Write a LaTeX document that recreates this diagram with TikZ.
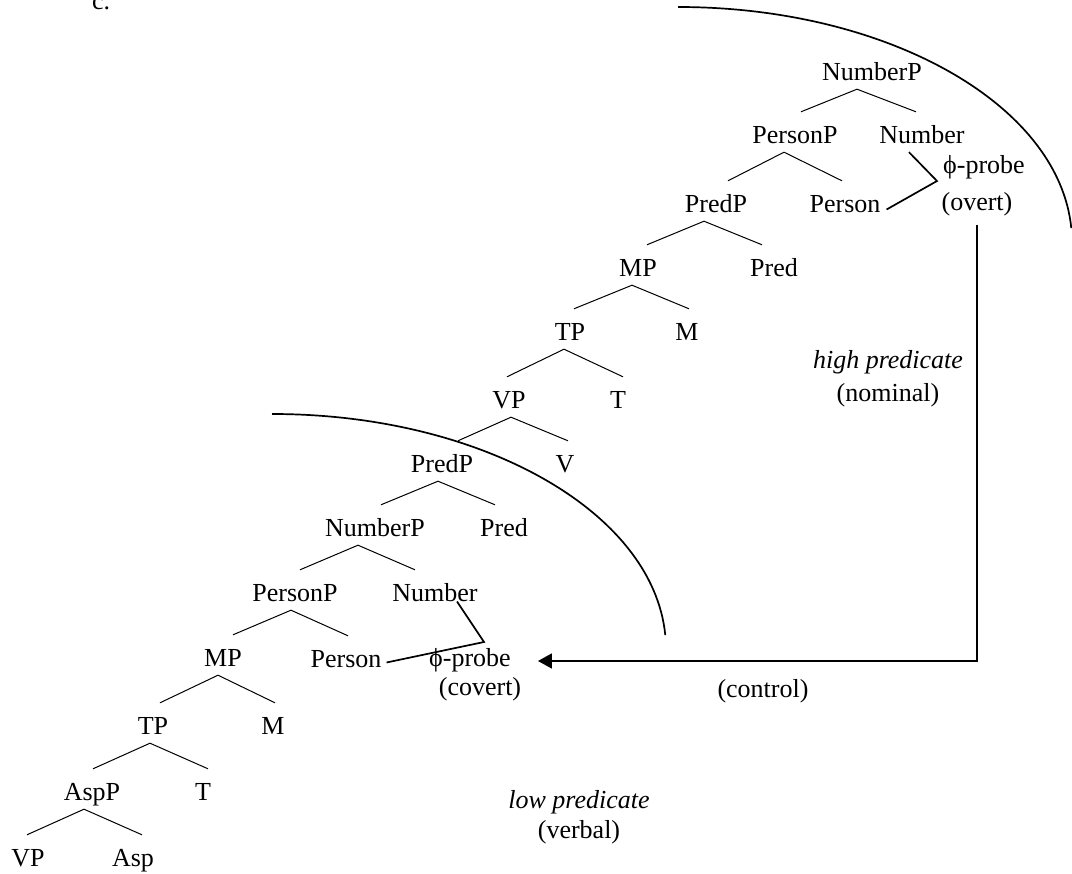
\documentclass[tikz,border=0pt]{standalone}
\usepackage{fontspec}
\setmainfont{Liberation Serif}
\usetikzlibrary{arrows.meta}

\tikzset{
  every node/.style={font=\fontsize{26pt}{31pt}\selectfont},
  cat/.style={inner sep=0pt, text height=31.5pt, text depth=8.5pt, anchor=base},
  txt/.style={inner sep=0pt, anchor=base},
  branch/.style={line width=1pt},
  probeline/.style={line width=1.7pt},
  bound/.style={line width=1.7pt},
  ctrl/.style={line width=1.8pt, -{Triangle[length=14pt,width=15pt]}},
}

\begin{document}
\begin{tikzpicture}[x=1pt, y=-1pt]
\useasboundingbox (0,0) rectangle (1072,874);

% Example number
\node[txt, anchor=base west] (ex) at (92,10) {c.};

% Categories of both trees
\foreach \nm/\x/\y/\lab in {
    np1/872/80.5/NumberP,
    pp1/795/143.5/PersonP, num1/922/143.5/Number,
    prp1/716/212.5/PredP, per1/845/212.5/Person,
    mp1/638/276.5/MP, pred1/774/276.5/Pred,
    tp1/570/340.5/TP, m1/687/340.5/M,
    vp1/509/408.5/VP, t1/618/408.5/T,
    prp2/442/472.5/PredP, v1/565/472.5/V,
    np2/375/536.5/NumberP, pred2/504/536.5/Pred,
    pp2/295/601.5/PersonP, num2/435/601.5/Number,
    mp2/223/666.5/MP, per2/346/667.5/Person,
    tp2/153/734.5/TP, m2/273/734.5/M,
    asp/92/800.5/AspP, t2/203/800.5/T,
    vp2/28/866.5/VP, asp0/133/866.5/Asp%
  }
  \node[cat] (\nm) at (\x,\y) {\lab};

% Branches (parent/left/right and small shifts)
\foreach \p/\l/\r/\da/\dl/\dr in {
    np1/pp1/num1/-15/6/-6, pp1/prp1/per1/-11/12/-3,
    prp1/mp1/pred1/-12/9/-12, mp1/tp1/m1/-6/4/2,
    tp1/vp1/t1/-6/-2/5, vp1/prp2/v1/2/16/3,
    prp2/np2/pred2/-4/6/-9, np2/pp2/num2/-17/5/-20,
    pp2/mp2/per2/-4/10/2, mp2/tp2/m2/-5/7/2,
    tp2/asp/t2/-3/1/5, asp/vp2/asp0/-8/-1/9%
  }
  \draw[branch] ([xshift=\dl pt]\l.north) -- ([xshift=\da pt]\p.south) -- ([xshift=\dr pt]\r.north);

% High probe
\node[txt] (pr1) at (984,174) {ϕ-probe};
\node[txt] (ov1) at (977,211) {(overt)};
\coordinate (pj1) at (937,181);
\draw[probeline] ([xshift=-13pt]num1.south) -- (pj1) -- ([xshift=6pt,yshift=3pt]per1.base east);

% Low probe
\node[txt] (pr2) at (470,666) {ϕ-probe};
\node[txt] (cv2) at (480,695) {(covert)};
\coordinate (pj2) at (484,642);
\draw[probeline] ([xshift=22pt]num2.base) -- (pj2) -- ([xshift=5pt,yshift=5pt]per2.base east);

% Domain boundaries
\draw[bound] (678,7) arc[start angle=90, end angle=3.4, x radius=394pt, y radius=235pt];
\draw[bound] (272,414) arc[start angle=90, end angle=3.4, x radius=394pt, y radius=235pt];

% Domain labels
\node[txt, font=\fontsize{26pt}{31pt}\selectfont\itshape] (hi) at (888,369) {high predicate};
\node[txt] (nom) at (888,402) {(nominal)};
\node[txt, font=\fontsize{26pt}{31pt}\selectfont\itshape] (lo) at (579,808) {low predicate};
\node[txt] (vb) at (579,838) {(verbal)};

% Control relation
\draw[ctrl] ([yshift=-8pt]ov1.south) |- ([xshift=27pt,yshift=5pt]pr2.base east);
\node[txt] (ctl) at (763,697) {(control)};
\end{tikzpicture}
\end{document}
